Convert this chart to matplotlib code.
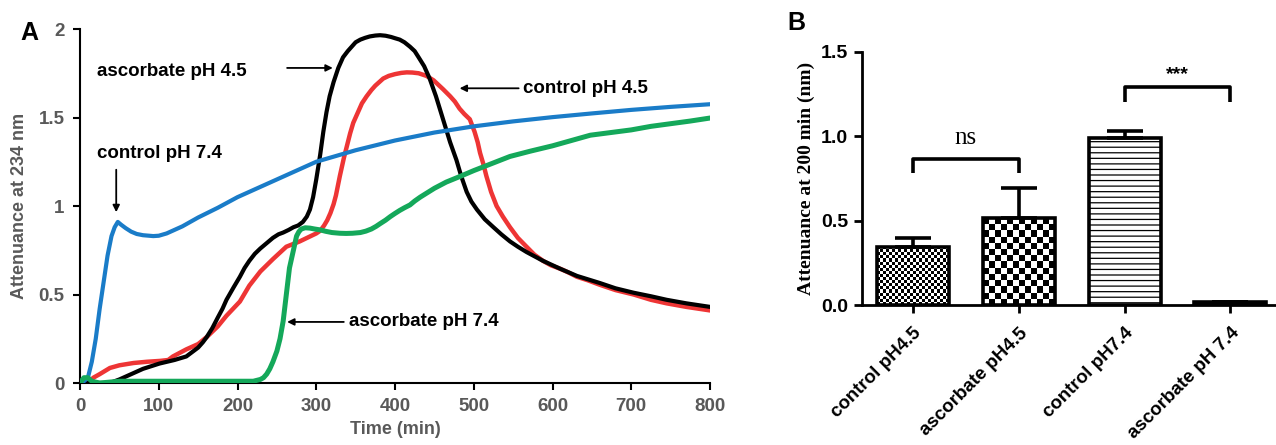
import numpy as np
import matplotlib.pyplot as plt

# ---------------- panel A: attenuance vs time ----------------
t_ctrl74 = [0, 5, 10, 15, 20, 25, 30, 35, 40, 44, 48, 52, 58, 65, 72, 80, 93, 100, 110, 120,
            130, 150, 175, 200, 230, 260, 300, 350, 400, 450, 500, 550, 600, 650, 700, 750, 800]
v_ctrl74 = [0, 0.01, 0.03, 0.12, 0.25, 0.42, 0.57, 0.72, 0.83, 0.88, 0.91, 0.895, 0.875,
            0.855, 0.842, 0.835, 0.83, 0.832, 0.845, 0.865, 0.885, 0.935, 0.99, 1.05, 1.11,
            1.17, 1.25, 1.315, 1.37, 1.415, 1.45, 1.478, 1.502, 1.523, 1.543, 1.56, 1.575]

t_ctrl45 = [0, 10, 17, 25, 38, 50, 68, 85, 102, 112, 118, 135, 150, 161, 175, 186, 203, 215,
            229, 245, 262, 279, 300, 305, 310, 314, 318, 322, 325, 330, 335, 339, 343, 347,
            353, 358, 364, 370, 375, 380, 385, 392, 400, 408, 415, 422, 430, 440, 449, 455,
            461, 470, 476, 482, 488, 495, 501, 505, 508, 512, 516, 522, 529, 537, 546, 556,
            567, 577, 588, 598, 610, 620, 631, 645, 660, 680, 703, 725, 745, 770, 800]
v_ctrl45 = [0, 0.0, 0.03, 0.05, 0.085, 0.1, 0.113, 0.12, 0.125, 0.13, 0.15, 0.19, 0.22, 0.26,
            0.32, 0.38, 0.46, 0.55, 0.63, 0.7, 0.77, 0.8, 0.845, 0.86, 0.89, 0.92, 0.96, 1.01,
            1.06, 1.17, 1.27, 1.34, 1.41, 1.47, 1.53, 1.58, 1.62, 1.655, 1.68, 1.70, 1.72,
            1.735, 1.745, 1.752, 1.755, 1.754, 1.75, 1.735, 1.71, 1.685, 1.66, 1.62, 1.59,
            1.55, 1.52, 1.49, 1.42, 1.36, 1.30, 1.24, 1.17, 1.08, 1.0, 0.94, 0.88, 0.82, 0.77,
            0.725, 0.69, 0.665, 0.645, 0.625, 0.60, 0.58, 0.555, 0.525, 0.50, 0.47, 0.45,
            0.43, 0.41]

t_asc45 = [0, 20, 38, 50, 65, 80, 101, 120, 135, 150, 156, 161, 168, 175, 181, 186, 195, 203,
           209, 215, 222, 229, 237, 245, 252, 258, 265, 271, 277, 283, 288, 292, 296, 300, 305,
           309, 313, 317, 322, 328, 334, 340, 345, 350, 356, 362, 368, 375, 381, 388, 395,
           400, 406, 412, 419, 425, 430, 437, 444, 452, 461, 470, 478, 484, 491, 497, 504,
           514, 525, 535, 546, 556, 567, 588, 610, 631, 660, 680, 703, 725, 745, 770, 800]
v_asc45 = [0, 0.0, 0.0, 0.02, 0.05, 0.08, 0.11, 0.13, 0.15, 0.2, 0.23, 0.26, 0.31, 0.37, 0.42,
           0.47, 0.54, 0.6, 0.65, 0.69, 0.73, 0.76, 0.79, 0.82, 0.84, 0.85, 0.865, 0.88, 0.89,
           0.91, 0.94, 0.98, 1.05, 1.15, 1.29, 1.42, 1.53, 1.62, 1.70, 1.78, 1.84, 1.875,
           1.90, 1.925, 1.94, 1.95, 1.958, 1.963, 1.965, 1.962, 1.955, 1.948, 1.94, 1.925,
           1.90, 1.875, 1.84, 1.79, 1.72, 1.62, 1.49, 1.36, 1.26, 1.17, 1.08, 1.025, 0.98,
           0.925, 0.88, 0.84, 0.80, 0.77, 0.74, 0.69, 0.645, 0.605, 0.565, 0.535, 0.51, 0.49,
           0.47, 0.45, 0.43]

t_asc74 = [0, 5, 10, 15, 25, 50, 100, 150, 200, 220, 229, 233, 237, 241, 245, 250, 254, 258,
           262, 266, 271, 275, 278, 281, 286, 292, 298, 305, 312, 320, 330, 338, 346, 356,
           363, 370, 376, 381, 388, 394, 400, 406, 412, 419, 425, 432, 441, 450, 465, 482,
           500, 523, 546, 572, 600, 624, 648, 674, 700, 725, 750, 775, 800]
v_asc74 = [0, 0.03, 0.03, 0.01, 0.0, 0.01, 0.01, 0.01, 0.01, 0.01, 0.02, 0.03, 0.05, 0.08,
           0.12, 0.18, 0.25, 0.35, 0.50, 0.65, 0.75, 0.83, 0.855, 0.87, 0.877, 0.875, 0.87,
           0.865, 0.857, 0.85, 0.846, 0.845, 0.846, 0.85, 0.858, 0.87, 0.885, 0.9, 0.92,
           0.94, 0.958, 0.975, 0.99, 1.006, 1.028, 1.05, 1.075, 1.1, 1.135, 1.166, 1.2, 1.24,
           1.28, 1.31, 1.34, 1.37, 1.40, 1.415, 1.43, 1.45, 1.465, 1.48, 1.497]

# ---------------- panel B: attenuance at 200 min ----------------
groups = ['control pH4.5', 'ascorbate pH4.5', 'control pH7.4', 'ascorbate pH 7.4']
means = [0.345, 0.515, 0.99, 0.015]
errs = [0.055, 0.18, 0.04, 0.0]
sig_pairs = [(0, 1, 0.865, 'ns'), (2, 3, 1.29, '***')]

GRAY = '#595959'
plt.rcParams['font.family'] = ['Liberation Sans', 'DejaVu Sans']
plt.rcParams['hatch.linewidth'] = 0.9

fig = plt.figure(figsize=(12.76, 4.45), dpi=100)

# ---- A ----
axA = fig.add_axes([80 / 1276, 62 / 445, 630 / 1276, 354 / 445])
axA.plot(t_ctrl45, v_ctrl45, color='#EE3535', lw=3.2, solid_capstyle='round',
         solid_joinstyle='round', zorder=2)
axA.plot(t_asc45, v_asc45, color='black', lw=3.0, solid_capstyle='round',
         solid_joinstyle='round', zorder=3)
axA.plot(t_ctrl74, v_ctrl74, color='#1A7CC8', lw=3.0, solid_capstyle='round',
         solid_joinstyle='round', zorder=4)
axA.plot(t_asc74, v_asc74, color='#14A85A', lw=3.6, solid_capstyle='round',
         solid_joinstyle='round', zorder=5)

axA.set_xlim(0, 800)
axA.set_ylim(0, 2)
axA.set_xticks(range(0, 801, 100))
axA.set_yticks([0, 0.5, 1, 1.5, 2])
axA.set_yticklabels(['0', '0.5', '1', '1.5', '2'])
for s in ['top', 'right']:
    axA.spines[s].set_visible(False)
for s in ['left', 'bottom']:
    axA.spines[s].set_linewidth(1.5)
axA.tick_params(direction='out', length=5, width=1.5, labelsize=13.5,
                labelcolor=GRAY, pad=6)
for lab in axA.get_xticklabels() + axA.get_yticklabels():
    lab.set_fontweight('bold')
axA.set_xlabel('Time (min)', fontsize=13, fontweight='bold', color=GRAY, labelpad=4)
axA.set_ylabel('Attenuance at 234 nm', fontsize=13, fontweight='bold', color=GRAY, labelpad=8)

arrow = dict(arrowstyle='-|>', color='black', lw=1.3, mutation_scale=10, shrinkA=0, shrinkB=0)
txt = dict(fontsize=13.5, fontweight='bold', color='black', va='center')
axA.text(21, 1.76, 'ascorbate pH 4.5', **txt)
axA.annotate('', xy=(321, 1.78), xytext=(263, 1.78), arrowprops=arrow)
axA.text(21, 1.295, 'control pH 7.4', **txt)
axA.annotate('', xy=(46, 0.965), xytext=(46, 1.205), arrowprops=arrow)
axA.text(563, 1.665, 'control pH 4.5', **txt)
axA.annotate('', xy=(482, 1.665), xytext=(557, 1.665), arrowprops=arrow)
axA.text(341, 0.345, 'ascorbate pH 7.4', **txt)
axA.annotate('', xy=(263, 0.345), xytext=(335, 0.345), arrowprops=arrow)

fig.text(29 / 1276, 1 - 33 / 445, 'A', fontsize=18, fontweight='bold', ha='center', va='center')

# ---- B ----
axB = fig.add_axes([862 / 1276, 140 / 445, 414 / 1276, 253 / 445])
x = np.arange(len(groups))
axB.set_xlim(-0.48, 3.43)
axB.set_ylim(0, 1.5)

bars = axB.bar(x, means, width=0.68, facecolor='none', edgecolor='black', linewidth=2.6, zorder=3)
bars[2].set_facecolor('white')
bars[2].set_hatch('---')
bars[3].set_facecolor('white')
bars[3].set_hatch('--')


def checker(ax, bar, cell_px):
    x0, y0 = bar.get_x(), bar.get_y()
    w, h = bar.get_width(), bar.get_height()
    p0 = ax.transData.transform((x0, y0))
    p1 = ax.transData.transform((x0 + w, y0 + h))
    nx = max(1, int(round((p1[0] - p0[0]) / cell_px)))
    ny = max(1, int(round((p1[1] - p0[1]) / cell_px)))
    board = np.indices((ny, nx)).sum(axis=0) % 2
    im = ax.imshow(board, cmap='gray', extent=(x0, x0 + w, y0, y0 + h), aspect='auto',
                   interpolation='nearest', zorder=2)
    im.set_clip_path(bar)


checker(axB, bars[0], 3)
checker(axB, bars[1], 6)
axB.set_xlim(-0.48, 3.43)
axB.set_ylim(0, 1.5)

axB.errorbar(x, means, yerr=[np.zeros(len(means)), errs], fmt='none', ecolor='black',
             elinewidth=2.6, capsize=13, capthick=2.6, zorder=4)

for i, j, y, lab in sig_pairs:
    axB.plot([i, i, j, j], [y - 0.085, y, y, y - 0.085], color='black', lw=2.6,
             solid_capstyle='butt', clip_on=False)
    if lab == 'ns':
        axB.text((i + j) / 2, y + 0.06, lab, ha='center', va='bottom', fontsize=18,
                 family='Liberation Serif')
    else:
        axB.text((i + j) / 2, y + 0.025, lab, ha='center', va='bottom', fontsize=14,
                 fontweight='bold')

for s in ['top', 'right']:
    axB.spines[s].set_visible(False)
for s in ['left', 'bottom']:
    axB.spines[s].set_linewidth(2)
axB.set_yticks([0, 0.5, 1.0, 1.5])
axB.set_yticklabels(['0.0', '0.5', '1.0', '1.5'])
axB.set_xticks(x)
axB.set_xticklabels(groups, rotation=45, ha='right', rotation_mode='anchor')
axB.tick_params(direction='out', length=6, width=2, labelsize=14, pad=4)
axB.tick_params(axis='x', labelsize=13.5, pad=8)
for lab in axB.get_xticklabels() + axB.get_yticklabels():
    lab.set_fontweight('bold')
axB.set_ylabel('Attenuance at 200 min (nm)', fontsize=14, fontweight='bold',
               family='Liberation Serif', labelpad=4)

fig.text(796 / 1276, 1 - 23 / 445, 'B', fontsize=18, fontweight='bold', ha='center', va='center')

fig.savefig('out.png', dpi=100)
